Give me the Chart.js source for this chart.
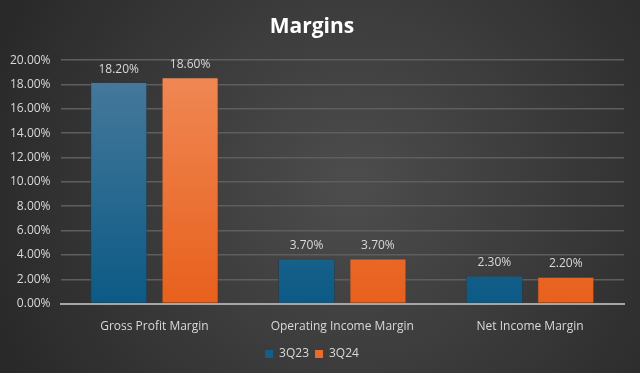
<!DOCTYPE html>
<html><head><meta charset="utf-8">
<script src="https://cdn.jsdelivr.net/npm/chart.js@4/dist/chart.umd.min.js"></script>
<style>html,body{margin:0;padding:0;background:#333;}#wrap{width:640px;height:373px;}</style>
</head><body><div id="wrap"><canvas id="c" width="640" height="373"></canvas></div>
<script>
const categories = ["Gross Profit Margin", "Operating Income Margin", "Net Income Margin"];
const series3Q23 = [18.2, 3.7, 2.3];
const series3Q24 = [18.6, 3.7, 2.2];
const seriesNames = ["3Q23", "3Q24"];
const yTicks = [0, 2, 4, 6, 8, 10, 12, 14, 16, 18, 20];

const bgPlugin = {
  id: 'bg',
  beforeDraw(chart) {
    const {ctx, width, height} = chart;
    const g = ctx.createRadialGradient(width*0.55, height*0.5, 10, width*0.55, height*0.5, width*0.65);
    g.addColorStop(0, '#4c4c4c');
    g.addColorStop(1, '#262626');
    ctx.save(); ctx.fillStyle = g; ctx.fillRect(0, 0, width, height); ctx.restore();
  }
};
const labelPlugin = {
  id: 'vals',
  afterDatasetsDraw(chart) {
    const ctx = chart.ctx;
    ctx.save();
    ctx.font = '12px "Open Sans", sans-serif';
    ctx.fillStyle = '#d9d9d9';
    ctx.textAlign = 'center';
    ctx.textBaseline = 'bottom';
    chart.data.datasets.forEach((ds, i) => {
      chart.getDatasetMeta(i).data.forEach((bar, j) => {
        ctx.fillText(ds.data[j].toFixed(2) + '%', bar.x, bar.y - 7);
      });
    });
    ctx.restore();
  }
};
function grad(top, bottom) {
  return (c) => {
    const ca = c.chart.chartArea;
    if (!ca) return bottom;
    const g = c.chart.ctx.createLinearGradient(0, ca.top, 0, ca.bottom);
    g.addColorStop(0, top); g.addColorStop(1, bottom);
    return g;
  };
}
new Chart(document.getElementById('c'), {
  type: 'bar',
  data: {
    labels: categories,
    datasets: [
      {label: seriesNames[0], data: series3Q23, backgroundColor: grad('#4b7b9c', '#0b5a86'), borderColor: 'rgba(30,60,80,0.6)', borderWidth: 1, categoryPercentage: 0.76, barPercentage: 0.8},
      {label: seriesNames[1], data: series3Q24, backgroundColor: grad('#f08a58', '#e8601c'), borderColor: 'rgba(120,50,10,0.5)', borderWidth: 1, categoryPercentage: 0.76, barPercentage: 0.8}
    ]
  },
  options: {
    responsive: false, animation: false,
    layout: {padding: {left: 0, right: 16, top: 0, bottom: 3}},
    plugins: {
      title: {display: true, text: 'Margins', color: '#ffffff', font: {family: '"Open Sans", sans-serif', size: 21, weight: 'bold'}, padding: {top: 14, bottom: 21}},
      legend: {position: 'bottom', labels: {color: '#d9d9d9', font: {family: '"Open Sans", sans-serif', size: 12}, boxWidth: 8, boxHeight: 8, padding: 6,
        generateLabels(chart) { return chart.data.datasets.map((d, i) => ({text: d.label, fillStyle: i ? '#ec6a2a' : '#135f88', strokeStyle: 'transparent', lineWidth: 0, datasetIndex: i, fontColor: '#d9d9d9'})); }}},
      tooltip: {enabled: false}
    },
    scales: {
      x: {grid: {display: false}, border: {color: '#a6a6a6', width: 2}, ticks: {color: '#d9d9d9', font: {family: '"Open Sans", sans-serif', size: 12}, padding: 8}},
      y: {min: 0, max: 20, afterBuildTicks(s) { s.ticks = yTicks.map(v => ({value: v})); },
        grid: {color: '#5e5e5e', lineWidth: 1.5, drawTicks: false}, border: {display: false},
        ticks: {color: '#d9d9d9', font: {family: '"Open Sans", sans-serif', size: 12}, padding: 10, callback: v => v.toFixed(2) + '%'}}
    }
  },
  plugins: [bgPlugin, labelPlugin]
});
</script></body></html>
